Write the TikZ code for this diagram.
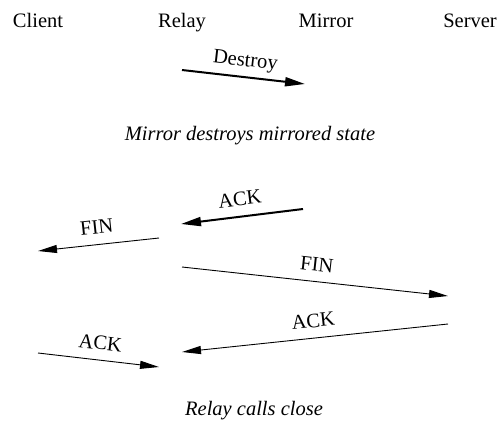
\documentclass[tikz,border=0pt]{standalone}
\usepackage{fontspec}
\setmainfont{Liberation Serif}
\usetikzlibrary{arrows.meta}

\begin{document}
\begin{tikzpicture}[
  x=1pt, y=-1pt,
  font=\fontsize{20.5}{23}\selectfont,
  msg/.style={-{Triangle[length=19pt,width=8pt]}, line width=0.9pt},
  bigmsg/.style={-{Triangle[length=20pt,width=9pt]}, line width=2pt},
  lbl/.style={sloped, above=9pt, inner sep=1pt, text depth=0pt},
  head/.style={anchor=base},
  caption/.style={anchor=base, font=\fontsize{20.5}{23}\selectfont\itshape}
]
\useasboundingbox (0,0) rectangle (503,434);
% column heads
\node[head] (client) at (38,27) {Client};
\node[head] (relay) at (182,27) {Relay};
\node[head] (mirror) at (326,27) {Mirror};
\node[head] (server) at (470,27) {Server};

% end points of the messages
\coordinate (d1) at (182,70);  \coordinate (d2) at (305,84);
\coordinate (a1) at (303,209); \coordinate (a2) at (181,224);
\coordinate (f1) at (159,238); \coordinate (f2) at (38,251);
\coordinate (g1) at (182,267); \coordinate (g2) at (448,296);
\coordinate (b1) at (448,324); \coordinate (b2) at (182,352);
\coordinate (c1) at (38,353);  \coordinate (c2) at (159,367);

\draw[bigmsg] (d1) -- node[lbl] {Destroy} (d2);
\node[caption] (cap1) at (250,140) {Mirror destroys mirrored state};

\draw[bigmsg] (a1) -- node[lbl] {ACK} (a2);
\draw[msg] (f1) -- node[lbl] {FIN} (f2);
\draw[msg] (g1) -- node[lbl] {FIN} (g2);
\draw[msg] (b1) -- node[lbl] {ACK} (b2);
\draw[msg] (c1) -- node[lbl] {ACK} (c2);
\node[caption] (cap2) at (254,415) {Relay calls close};
\end{tikzpicture}
\end{document}
